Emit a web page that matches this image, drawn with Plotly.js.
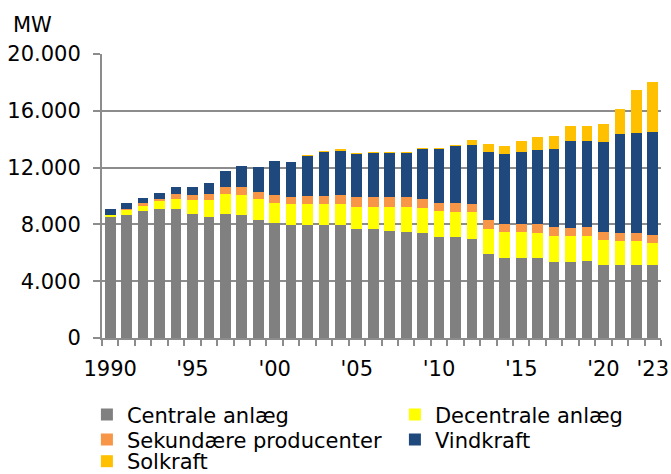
<!DOCTYPE html>
<html>
<head>
<meta charset="utf-8">
<script src="https://cdn.plot.ly/plotly-3.0.1.min.js"></script>
<style>
  html, body { margin: 0; padding: 0; background: #fff; }
  #chart { width: 671px; height: 474px; }
</style>
</head>
<body>
<div id="chart"></div>
<script>
// years on the x axis
var years = [];
for (var y = 1990; y <= 2023; y++) years.push(y);

// capacity in MW
var centrale = [8490, 8675, 8955, 9050, 9050, 8745, 8490, 8745, 8650, 8325,
  8115, 7940, 7930, 7930, 7930, 7650, 7650, 7550, 7460, 7390,
  7110, 7110, 6990, 5915, 5615, 5615, 5615, 5335, 5335, 5445,
  5145, 5145, 5145, 5145];
var decentrale = [140, 330, 350, 585, 750, 960, 1215, 1400, 1405, 1475,
  1380, 1475, 1495, 1495, 1495, 1585, 1585, 1685, 1775, 1755,
  1845, 1755, 1875, 1735, 1865, 1865, 1795, 1865, 1865, 1755,
  1775, 1685, 1685, 1565];
var sekundaere = [40, 60, 170, 140, 350, 350, 440, 470, 560, 465,
  560, 540, 560, 560, 630, 660, 660, 660, 660, 655,
  540, 630, 540, 650, 540, 540, 610, 630, 560, 630,
  540, 540, 540, 540];
var vind = [400, 430, 400, 440, 470, 580, 750, 1125, 1495, 1755,
  2385, 2430, 2830, 3110, 3135, 3060, 3160, 3160, 3160, 3505,
  3810, 4020, 4210, 4795, 4935, 5075, 5195, 5455, 6105, 6035,
  6315, 6970, 7060, 7250];
var sol = [0, 0, 0, 30, 40, 0, 0, 0, 0, 0,
  0, 0, 100, 90, 90, 70, 70, 70, 70, 100,
  100, 100, 350, 590, 540, 770, 930, 960, 1030, 1100,
  1315, 1755, 3045, 3505];

var tickYears = [1990, 1995, 2000, 2005, 2010, 2015, 2020, 2023];
var tickLabels = ["1990", "'95", "'00", "'05", "'10", "'15", "'20", "'23"];

// each series gets its own legend box so the rows can sit tight like the original
function bar(name, values, color, legendId) {
  return {
    type: "bar",
    name: name,
    x: years,
    y: values,
    legend: legendId,
    marker: {color: color, line: {width: 0}},
    hoverinfo: "x+y+name"
  };
}

var data = [
  bar("Centrale anlæg", centrale, "#808080", "legend"),
  bar("Decentrale anlæg", decentrale, "#FFFF00", "legend2"),
  bar("Sekundære producenter", sekundaere, "#F79646", "legend3"),
  bar("Vindkraft", vind, "#1F497D", "legend4"),
  bar("Solkraft", sol, "#FFC000", "legend5")
];

var gridGrey = "#8c8c8c";
var fontSize = 21;

function legendBox(x, y) {
  return {
    orientation: "v",
    x: x,
    xanchor: "left",
    y: y,
    yanchor: "middle",
    font: {size: fontSize},
    bgcolor: "rgba(0,0,0,0)",
    borderwidth: 0
  };
}

var col1 = -0.027, col2 = 0.524;
var row1 = -0.271, row2 = -0.359, row3 = -0.435;

var layout = {
  width: 671,
  height: 474,
  barmode: "stack",
  bargap: 0.35,
  separators: ",.",
  font: {family: "DejaVu Sans, Verdana, sans-serif", size: fontSize, color: "#000"},
  paper_bgcolor: "#fff",
  plot_bgcolor: "#fff",
  margin: {l: 102, r: 10, t: 54, b: 136, autoexpand: false},
  xaxis: {
    range: [1989.5, 2023.5],
    tickmode: "array",
    tickvals: tickYears,
    ticktext: tickLabels,
    ticks: "",
    ticklabelstandoff: 11,
    showgrid: false,
    zeroline: false,
    showline: true,
    linecolor: gridGrey,
    linewidth: 2,
    minor: {tick0: 1989.5, dtick: 1, ticks: "outside", ticklen: 6, tickwidth: 2, tickcolor: gridGrey, showgrid: false}
  },
  yaxis: {
    range: [0, 20000],
    tickvals: [0, 4000, 8000, 12000, 16000, 20000],
    tickformat: ",d",
    ticks: "outside",
    ticklen: 7,
    tickwidth: 2,
    tickcolor: gridGrey,
    showgrid: true,
    gridcolor: gridGrey,
    gridwidth: 2,
    zeroline: false,
    showline: true,
    linecolor: gridGrey,
    linewidth: 2,
    ticklabelstandoff: 8
  },
  showlegend: true,
  legend: legendBox(col1, row1),
  legend2: legendBox(col2, row1),
  legend3: legendBox(col1, row2),
  legend4: legendBox(col2, row2),
  legend5: legendBox(col1, row3),
  annotations: [{
    text: "MW",
    xref: "paper",
    yref: "paper",
    x: -0.162,
    y: 1.102,
    xanchor: "left",
    yanchor: "middle",
    showarrow: false,
    font: {size: fontSize}
  }]
};

Plotly.newPlot("chart", data, layout, {displayModeBar: false, staticPlot: true});
</script>
</body>
</html>
